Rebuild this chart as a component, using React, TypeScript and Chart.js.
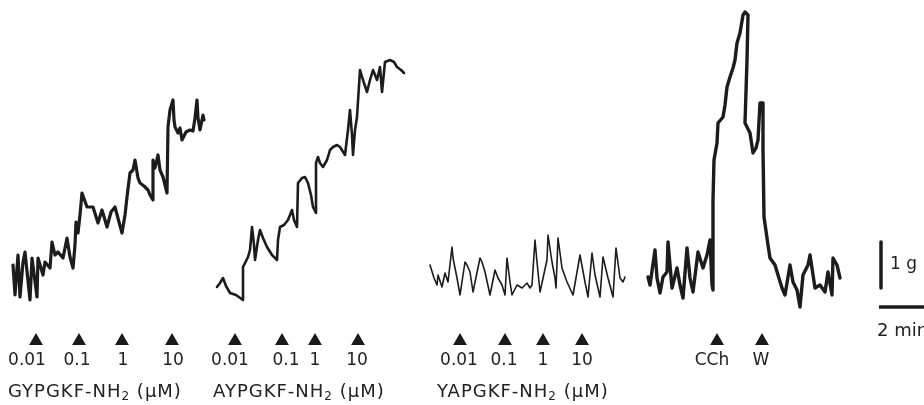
import React, { useEffect, useRef } from "react";
import { Chart, registerables } from "chart.js";

Chart.register(...registerables);

// Recording traces: time (chart units) and tension (chart units, downward axis as read)
const gypTime = [13, 15, 18, 20, 23, 25, 30, 32, 37, 38, 43, 45, 50, 52, 55, 58, 63, 67, 70, 73, 75, 76, 78, 80, 82, 87, 93, 98, 102, 107, 111, 115, 119, 122, 125, 127, 130, 133, 135, 138, 140, 144, 148, 150, 153, 153, 155, 158, 160, 163, 167, 168, 170, 173, 174, 175, 178, 180, 182, 186, 190, 193, 195, 197, 198, 200, 203, 204];
const gypTension = [265, 295, 255, 297, 262, 252, 300, 258, 297, 258, 275, 262, 268, 242, 255, 252, 258, 238, 257, 268, 245, 222, 233, 215, 193, 207, 207, 223, 210, 227, 212, 207, 222, 233, 215, 197, 173, 170, 160, 178, 183, 186, 190, 195, 200, 160, 168, 155, 170, 177, 193, 127, 110, 100, 120, 127, 133, 128, 140, 132, 130, 131, 118, 100, 118, 130, 115, 120];

const aypTime = [217, 220, 223, 226, 230, 236, 243, 243, 248, 250, 252, 254, 255, 258, 260, 263, 267, 272, 277, 278, 280, 284, 288, 290, 292, 294, 297, 298, 302, 305, 308, 311, 313, 316, 316, 318, 320, 323, 327, 330, 333, 337, 340, 345, 348, 350, 352, 353, 355, 357, 360, 363, 367, 370, 373, 375, 377, 380, 382, 385, 390, 394, 397, 401, 404];
const aypTension = [287, 283, 278, 286, 293, 295, 300, 267, 257, 250, 227, 245, 260, 240, 230, 238, 247, 255, 260, 240, 227, 225, 220, 215, 210, 220, 227, 183, 178, 177, 183, 195, 207, 213, 163, 157, 163, 167, 160, 150, 147, 145, 147, 155, 130, 110, 135, 155, 130, 117, 70, 80, 92, 80, 70, 75, 80, 67, 92, 62, 60, 62, 67, 70, 73];

const yapTime = [430, 434, 437, 438, 442, 445, 448, 452, 453, 457, 460, 465, 467, 470, 473, 480, 482, 485, 490, 495, 498, 502, 505, 507, 510, 512, 517, 522, 527, 530, 532, 535, 537, 540, 547, 548, 552, 555, 556, 558, 562, 567, 573, 580, 585, 588, 592, 595, 600, 603, 608, 613, 616, 620, 623, 625];
const yapTension = [265, 278, 285, 275, 287, 273, 282, 247, 258, 278, 295, 262, 265, 272, 292, 258, 262, 272, 295, 270, 278, 285, 295, 258, 282, 295, 285, 288, 283, 288, 285, 240, 262, 292, 260, 235, 262, 278, 288, 238, 268, 282, 295, 255, 282, 297, 253, 275, 297, 257, 278, 297, 248, 278, 282, 277];

const cchTime = [648, 650, 655, 657, 660, 663, 667, 668, 672, 677, 680, 683, 687, 690, 693, 698, 703, 707, 710, 712, 713, 713, 714, 717, 718, 723, 725, 727, 730, 733, 735, 737, 740, 743, 745, 748, 747, 745, 750, 753, 756, 758, 760, 763, 763, 764, 768, 770, 775, 778, 782, 785, 790, 793, 797, 800, 803, 808, 810, 815, 820, 825, 828, 832, 833, 837, 840];
const cchTension = [277, 285, 250, 278, 293, 277, 272, 242, 288, 268, 285, 298, 248, 278, 292, 252, 268, 255, 240, 285, 290, 200, 160, 143, 123, 117, 105, 87, 77, 68, 60, 43, 33, 15, 12, 15, 60, 123, 133, 153, 148, 140, 103, 103, 150, 217, 245, 258, 265, 275, 288, 295, 265, 282, 290, 307, 275, 265, 255, 288, 285, 292, 272, 295, 258, 265, 278];

// Drug addition markers
const gypDoseTimes = [36, 79, 122, 172];
const aypDoseTimes = [235, 282, 315, 358];
const yapDoseTimes = [460, 505, 543, 582];
const cchEventTimes = [717, 762];
const markerLevel = 341;

// Tick / dose labels
const doseLabels = ["0.01", "0.1", "1", "10"];
const gypLabelTimes = [27, 77, 123, 173];
const aypLabelTimes = [230, 286, 315, 357];
const yapLabelTimes = [459, 504, 543, 582];
const cchLabels = ["CCh", "W"];
const cchLabelTimes = [712, 761];
const doseLabelLevel = 361;

const peptideNames = ["GYPGKF", "AYPGKF", "YAPGKF"];
const peptideLabelTimes = [8, 213, 437];
const peptideLabelLevel = 392;

// Calibration bars
const gBarTime = [881, 881];
const gBarTension = [242, 288];
const minBarTime = [879, 935];
const minBarTension = [307, 307];

const zip = (xs: number[], ys: number[]) => xs.map((x, i) => ({ x, y: ys[i] }));

const INK = "#1c1c1c";
const FONT = "'DejaVu Sans', sans-serif";

const textPlugin = {
  id: "figureText",
  afterDatasetsDraw(chart: any) {
    const { ctx, scales } = chart;
    const sx = scales.x;
    const sy = scales.y;
    ctx.save();
    ctx.fillStyle = "#222";
    ctx.textBaseline = "middle";
    ctx.textAlign = "center";
    ctx.font = `17px ${FONT}`;
    const groups: [number[], string[]][] = [
      [gypLabelTimes, doseLabels],
      [aypLabelTimes, doseLabels],
      [yapLabelTimes, doseLabels],
      [cchLabelTimes, cchLabels],
    ];
    groups.forEach(([times, labels]) => {
      times.forEach((t, i) => {
        ctx.fillText(labels[i], sx.getPixelForValue(t), sy.getPixelForValue(doseLabelLevel));
      });
    });
    ctx.textAlign = "left";
    (ctx as any).letterSpacing = "1px";
    peptideNames.forEach((name, i) => {
      let x = sx.getPixelForValue(peptideLabelTimes[i]);
      const y = sy.getPixelForValue(peptideLabelLevel);
      ctx.font = `18px ${FONT}`;
      const main = `${name}-NH`;
      ctx.fillText(main, x, y);
      x += ctx.measureText(main).width;
      ctx.font = `12px ${FONT}`;
      ctx.fillText("2", x, y + 5);
      x += ctx.measureText("2").width;
      ctx.font = `18px ${FONT}`;
      ctx.fillText(" (\u03BCM)", x, y);
    });
    (ctx as any).letterSpacing = "0px";
    // calibration labels
    ctx.font = `17px ${FONT}`;
    ctx.fillText("1 g", sx.getPixelForValue(890), sy.getPixelForValue(265));
    ctx.font = `18px ${FONT}`;
    ctx.fillText("2 min", sx.getPixelForValue(877), sy.getPixelForValue(331));
    ctx.restore();
  },
};

export default function App() {
  const ref = useRef<HTMLCanvasElement | null>(null);
  useEffect(() => {
    if (!ref.current) return;
    const traceStyle = (w: number) => ({
      borderColor: INK,
      borderWidth: w,
      pointRadius: 0,
      tension: 0,
      borderJoinStyle: "round" as const,
      borderCapStyle: "round" as const,
      fill: false,
    });
    const markers = [...gypDoseTimes, ...aypDoseTimes, ...yapDoseTimes, ...cchEventTimes].map((t) => ({
      x: t,
      y: markerLevel,
    }));
    const chart = new Chart(ref.current, {
      type: "line",
      data: {
        datasets: [
          { label: "GYPGKF-NH2", data: zip(gypTime, gypTension), ...traceStyle(3.2) },
          { label: "AYPGKF-NH2", data: zip(aypTime, aypTension), ...traceStyle(2.6) },
          { label: "YAPGKF-NH2", data: zip(yapTime, yapTension), ...traceStyle(1.6) },
          { label: "CCh", data: zip(cchTime, cchTension), ...traceStyle(3.4) },
          {
            label: "markers",
            type: "scatter",
            data: markers,
            pointStyle: "triangle",
            pointRadius: 8,
            pointBackgroundColor: "#1a1a1a",
            pointBorderColor: "#1a1a1a",
            pointBorderWidth: 0,
            showLine: false,
          } as any,
          { label: "1 g", data: zip(gBarTime, gBarTension), borderColor: INK, borderWidth: 3.5, pointRadius: 0 },
          { label: "2 min", data: zip(minBarTime, minBarTension), borderColor: INK, borderWidth: 3.5, pointRadius: 0 },
        ],
      },
      options: {
        animation: false,
        responsive: true,
        maintainAspectRatio: false,
        layout: { padding: 0, autoPadding: false } as any,
        plugins: { legend: { display: false }, tooltip: { enabled: false } },
        scales: {
          x: { type: "linear", min: 0, max: 924, display: false },
          y: { type: "linear", min: 0, max: 405, reverse: true, display: false },
        },
        elements: { line: { borderJoinStyle: "round" } },
      },
      plugins: [textPlugin],
    });
    return () => chart.destroy();
  }, []);
  return (
    <div style={{ position: "fixed", left: 0, top: 0, width: 924, height: 405, background: "#fff" }}>
      <canvas ref={ref} />
    </div>
  );
}
